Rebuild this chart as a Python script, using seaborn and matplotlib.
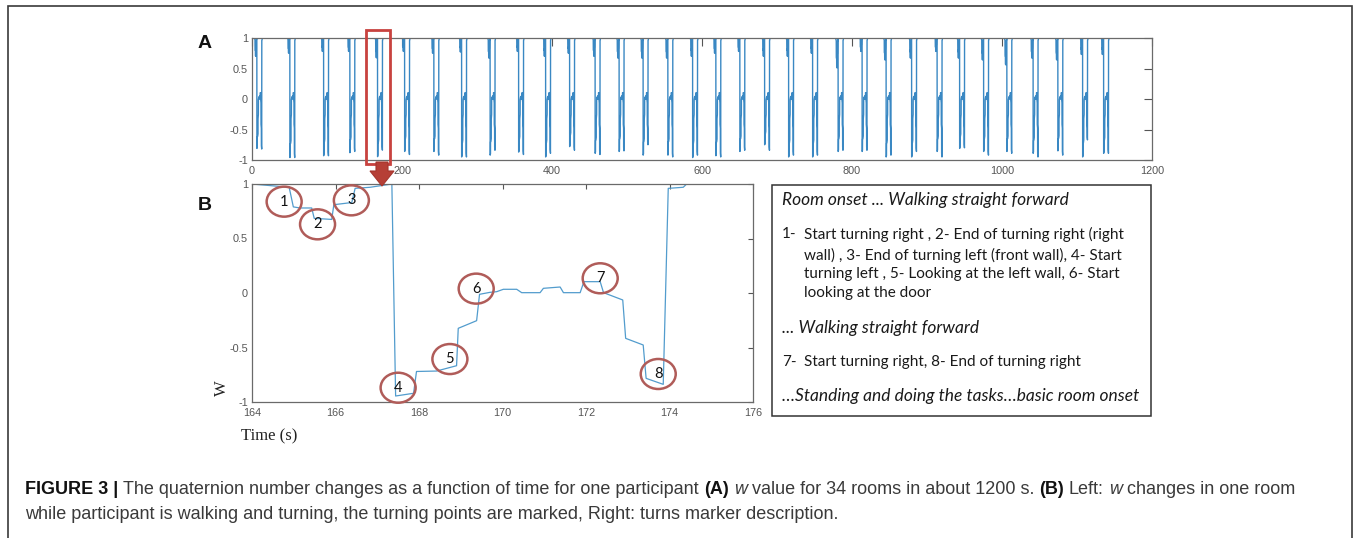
import numpy as np
import pandas as pd
import matplotlib
matplotlib.use("Agg")
import matplotlib.pyplot as plt
import seaborn as sns
from matplotlib.patches import Rectangle, Ellipse, Polygon
from matplotlib.transforms import blended_transform_factory

# ---------------- data ----------------
# Panel B: w in one room
b_time = [164.0, 164.89, 164.99, 165.15, 165.43, 165.49, 165.91, 165.96, 166.39, 166.47,
          166.83, 167.35, 167.44, 167.87, 167.94, 168.42, 168.90, 168.94, 169.38, 169.45,
          169.70, 169.86, 170.02, 170.34, 170.46, 170.90, 170.98, 171.38, 171.46, 171.86,
          171.95, 172.34, 172.42, 172.88, 172.95, 173.37, 173.44, 173.85, 173.97, 174.33,
          174.41, 174.85]
b_w = [1.0, 0.97, 0.79, 0.78, 0.78, 0.685, 0.675, 0.81, 0.83, 0.96,
       0.97, 1.0, -0.945, -0.92, -0.72, -0.716, -0.667, -0.324, -0.254, -0.012,
       0.006, 0.012, 0.034, 0.034, 0.003, 0.003, 0.043, 0.055, 0.003, 0.003,
       0.104, 0.104, 0.003, -0.064, -0.416, -0.477, -0.783, -0.838, 0.96, 0.97,
       1.0, 1.0]

# Panel A: 34 rooms, onset time of each room's first turn (s)
room_onset = [4, 48, 93, 128, 164.9, 201, 240, 277, 315, 353, 389, 421, 455, 487, 519, 552, 585,
              616, 648, 681, 713, 745, 779, 811, 843, 877, 911, 941, 973, 1004, 1039, 1072,
              1105, 1133]
room_dip = [0.70, 0.75, 0.78, 0.78, 0.675, 0.78, 0.75, 0.77, 0.67, 0.78, 0.70, 0.75, 0.70,
            0.67, 0.67, 0.67, 0.70, 0.75, 0.78, 0.70, 0.70, 0.75, 0.51, 0.78, 0.64, 0.67,
            0.78, 0.67, 0.64, 0.56, 0.67, 0.64, 0.73, 0.73]
room_min1 = [-0.81, -0.96, -0.93, -0.88, -0.945, -0.86, -0.86, -0.95, -0.92, -0.87, -0.95,
             -0.78, -0.89, -0.86, -0.92, -0.92, -0.96, -0.93, -0.86, -0.75, -0.95, -0.95,
             -0.86, -0.86, -0.95, -0.95, -0.86, -0.81, -0.86, -0.86, -0.89, -0.85, -0.95, -0.89]
room_min2 = [-0.82, -0.96, -0.93, -0.86, -0.838, -0.91, -0.92, -0.95, -0.84, -0.91, -0.89,
             -0.84, -0.91, -0.85, -0.75, -0.95, -0.92, -0.95, -0.84, -0.84, -0.92, -0.92,
             -0.84, -0.84, -0.92, -0.86, -0.95, -0.80, -0.92, -0.89, -0.95, -0.92, -0.67, -0.89]

a_xticks = [0, 200, 400, 600, 800, 1000, 1200]
b_xticks = [164, 166, 168, 170, 172, 174, 176]
w_ticks = [-1, -0.5, 0, 0.5, 1]
w_ticklabels = ["-1", "-0.5", "0", "0.5", "1"]

marker_labels = ["1", "2", "3", "4", "5", "6", "7", "8"]
marker_t = [164.77, 165.57, 166.38, 167.50, 168.74, 169.37, 172.34, 173.73]
marker_w = [0.838, 0.63, 0.85, -0.869, -0.606, 0.04, 0.135, -0.743]

box_lines = [
    ("", "Room onset ... Walking straight forward", "italic"),
    ("1-", "Start turning right , 2- End of turning right (right", "normal"),
    ("", "wall) , 3- End of turning left (front wall), 4- Start", "cont"),
    ("", "turning left , 5- Looking at the left wall, 6- Start", "cont"),
    ("", "looking at the door", "cont"),
    ("", "... Walking straight forward", "italic"),
    ("7-", "Start turning right, 8- End of turning right", "normal"),
    ("", "\u2026Standing and doing the tasks\u2026basic room onset", "italic"),
]
box_line_y = [200, 234, 255, 274, 293, 328, 362, 396]

caption1 = [("FIGURE 3 |", "bold", "normal"),
            ("The quaternion number changes as a function of time for one participant", "normal", "normal"),
            ("(A)", "bold", "normal"), ("w", "normal", "italic"),
            ("value for 34 rooms in about 1200 s.", "normal", "normal"),
            ("(B)", "bold", "normal"), ("Left:", "normal", "normal"), ("w", "normal", "italic"),
            ("changes in one room", "normal", "normal")]
caption2 = [("while participant is walking and turning, the turning points are marked, Right: turns marker description.",
             "normal", "normal")]

# -------- build panel A series from the room template (panel B shape) --------
bt = np.array(b_time)
bw = np.array(b_w)
rel = bt - 164.9
early = bt < 167.4
first = (bt >= 167.4) & (bt < 168.92)
second = (bt >= 173.4) & (bt < 173.9)
tA = [0.0]
wA = [1.0]
for on, dp, m1, m2 in zip(room_onset, room_dip, room_min1, room_min2):
    w = bw.copy()
    w[early] = 1 - (1 - bw[early]) * (1 - dp) / (1 - 0.675)
    w[first] = bw[first] * m1 / -0.945
    w[second] = bw[second] * m2 / -0.838
    tA.extend(list(on + rel))
    wA.extend(list(w))
dfA = pd.DataFrame({"t": tA, "w": wA})
dfB = pd.DataFrame({"t": b_time, "w": b_w})

# ---------------- figure ----------------
sns.set_theme(style="white")
plt.rcParams["font.family"] = ["Liberation Sans", "DejaVu Sans"]

W, H = 1354, 538
fig = plt.figure(figsize=(W / 100, H / 100), dpi=100)
fig.patch.set_facecolor("white")


def fx(px):
    return px / W


def fy(py):
    return 1 - py / H


axA = fig.add_axes([fx(252), fy(160), (1152 - 252) / W, (160 - 38) / H])
axB = fig.add_axes([fx(252), fy(402), (753 - 252) / W, (402 - 184) / H])

sns.lineplot(data=dfA, x="t", y="w", ax=axA, color="#3a88c3", linewidth=1.0,
             estimator=None, sort=False)
sns.lineplot(data=dfB, x="t", y="w", ax=axB, color="#529ccd", linewidth=0.9,
             estimator=None, sort=False)

for ax, xt, tl in ((axA, a_xticks, 6.0), (axB, b_xticks, 3.5)):
    ax.set_xlim(xt[0], xt[-1])
    ax.set_ylim(-1, 1)
    ax.set_xticks(xt)
    ax.set_xticklabels([str(v) for v in xt])
    ax.set_yticks(w_ticks)
    ax.set_yticklabels(w_ticklabels)
    ax.set_xlabel("")
    ax.set_ylabel("")
    ax.tick_params(direction="in", top=True, right=True, length=tl, width=0.8,
                   color="#555555", labelcolor="#555555", labelsize=7.8)
    ax.tick_params(axis="y", pad=3)
    ax.tick_params(axis="x", pad=4)
    for s in ax.spines.values():
        s.set_color("#6a6a6a")
        s.set_linewidth(0.9)
    ax.set_facecolor("white")

# red selection rectangle on A
trA = blended_transform_factory(axA.transData, axA.transAxes)
axA.add_patch(Rectangle((152, -0.033), 32, 1.10, transform=trA, fill=False,
                        ec="#c8423f", lw=2.0, clip_on=False, zorder=5))

# arrow from A to B
arrow_px = [(376, 162), (388, 162), (388, 171), (394, 171), (382, 186), (370, 171), (376, 171)]
fig.add_artist(Polygon([(fx(x), fy(y)) for x, y in arrow_px], closed=True,
                       transform=fig.transFigure, fc="#b63f36", ec="#a5352d", lw=0.8, zorder=10))

# circled markers on B
for lab, t, w in zip(marker_labels, marker_t, marker_w):
    axB.add_patch(Ellipse((t, w), width=35 / 41.75, height=30 / 109.0, fill=False,
                          ec="#b05c59", lw=1.8, clip_on=False, zorder=6))
    axB.text(t, w, lab, ha="center", va="center", fontsize=10.5, color="#111111",
             family=["Lato", "DejaVu Sans"], zorder=7)

# panel letters and axis labels
fig.text(fx(205), fy(43), "A", fontsize=14, weight="bold", ha="center", va="center", color="#111111")
fig.text(fx(205), fy(205), "B", fontsize=14, weight="bold", ha="center", va="center", color="#111111")
fig.text(fx(222), fy(388), "W", rotation=90, fontsize=12, ha="center", va="center",
         family=["Liberation Serif", "DejaVu Serif"], color="#222222")
fig.text(fx(269), fy(436), "Time (s)", fontsize=12, ha="center", va="center",
         family=["Liberation Serif", "DejaVu Serif"], color="#222222")

# outer frame
fig.add_artist(Rectangle((fx(8), -0.05), (1352 - 8) / W, fy(6) + 0.05, transform=fig.transFigure,
                         fill=False, ec="#3a3a3a", lw=1.2))

renderer = fig.canvas.get_renderer()


def text_width(s, **kw):
    t = fig.text(0, 0, s, **kw)
    w = t.get_window_extent(renderer).width
    t.remove()
    return w


# description text box
fig.add_artist(Rectangle((fx(772), fy(416)), (1151 - 772) / W, (416 - 185) / H,
                         transform=fig.transFigure, fill=False, ec="#333333", lw=1.1))
box_font = ["Lato", "DejaVu Sans"]
ref = text_width(box_lines[1][1], fontsize=10, family=box_font)
box_size = 10 * 319 / ref
refi = text_width(box_lines[0][1], fontsize=10, family=box_font, style="italic")
box_isize = 10 * 286 / refi
for (num, txt, kind), y in zip(box_lines, box_line_y):
    if kind == "italic":
        fig.text(fx(782), fy(y), txt, fontsize=box_isize, style="italic", family=box_font,
                 va="center", ha="left", color="#1a1a1a")
    else:
        if num:
            fig.text(fx(782), fy(y), num, fontsize=box_size, family=box_font,
                     va="center", ha="left", color="#1a1a1a")
        fig.text(fx(804), fy(y), txt, fontsize=box_size, family=box_font,
                 va="center", ha="left", color="#1a1a1a")

# caption with mixed styles
cap_font = ["Liberation Sans", "DejaVu Sans"]


def run_width(runs, size):
    sp = text_width("x x", fontsize=size, family=cap_font) - text_width("xx", fontsize=size, family=cap_font)
    tot = 0
    for txt, wt, st in runs:
        tot += text_width(txt, fontsize=size, family=cap_font, weight=wt, style=st)
    return tot + sp * (len(runs) - 1), sp


w10, _ = run_width(caption1, 10)
cap_size = 10 * (1303 - 25) / w10


def draw_runs(runs, x0, ybase, size):
    _, sp = run_width(runs, size)
    x = x0
    for txt, wt, st in runs:
        col = "#111111" if wt == "bold" else "#3a3a3a"
        t = fig.text(fx(x), fy(ybase), txt, fontsize=size, family=cap_font, weight=wt, style=st,
                     va="baseline", ha="left", color=col)
        x += t.get_window_extent(renderer).width + sp


draw_runs(caption1, 25, 494, cap_size)
draw_runs(caption2, 25, 519, cap_size)

fig.savefig("out.png", dpi=100, facecolor="white")
